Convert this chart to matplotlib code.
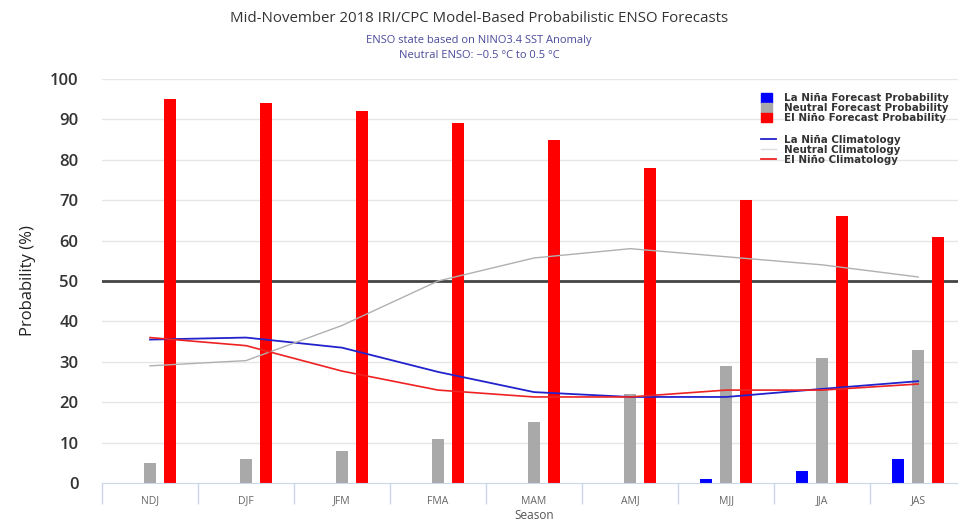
import numpy as np
import matplotlib
matplotlib.use('Agg')
import matplotlib.pyplot as plt
from matplotlib.patches import Patch
from matplotlib.lines import Line2D

plt.rcParams['font.family'] = ['Open Sans', 'DejaVu Sans']

# Datos
seasons = ['NDJ', 'DJF', 'JFM', 'FMA', 'MAM', 'AMJ', 'MJJ', 'JJA', 'JAS']
lanina_prob = [0, 0, 0, 0, 0, 0, 1, 3, 6]
neutral_prob = [5, 6, 8, 11, 15, 22, 29, 31, 33]
elnino_prob = [95, 94, 92, 89, 85, 78, 70, 66, 61]

lanina_clim = [35.5, 36, 33.5, 27.5, 22.5, 21.3, 21.3, 23.3, 25.2]
neutral_clim = [29, 30.3, 39, 50, 55.7, 58, 56, 54, 51]
elnino_clim = [36, 34, 27.7, 23, 21.3, 21.3, 23, 23, 24.5]

x = np.arange(len(seasons))
w = 0.125
off = 0.208

fig = plt.figure(figsize=(9.58, 5.21), dpi=100)
ax = fig.add_axes([0.1065, 0.0729, 0.902, 0.7755])

# Rejilla horizontal
for yv in range(10, 101, 10):
    if yv == 50:
        continue
    ax.axhline(yv, color='#e6e6e6', lw=1, zorder=0)
ax.axhline(50, color='#444444', lw=2, zorder=1)

ax.bar(x - off, lanina_prob, w, color='#0000ff', zorder=2)
ax.bar(x, neutral_prob, w, color='#a9a9a9', zorder=2)
ax.bar(x + off, elnino_prob, w, color='#ff0000', zorder=2)

ax.plot(x, lanina_clim, color='#2222cc', lw=1.3, zorder=3)
ax.plot(x, neutral_clim, color='#b0b0b0', lw=1.0, zorder=3)
ax.plot(x, elnino_clim, color='#ee2222', lw=1.2, zorder=3)

ax.set_xlim(-0.5, len(seasons) - 0.5)
ax.set_ylim(0, 100)

for s in ['top', 'right', 'left']:
    ax.spines[s].set_visible(False)
ax.spines['bottom'].set_color('#ccd6eb')

ax.set_xticks(x)
ax.set_xticklabels(seasons, fontsize=7.5, color='#666666')
ax.tick_params(axis='x', length=0, pad=9)
ax.set_xticks(np.arange(-0.5, len(seasons), 1), minor=True)
ax.tick_params(axis='x', which='minor', length=15, color='#ccd6eb', width=1)
ax.set_xlabel('Season', fontsize=8.5, color='#555555', labelpad=0)

ax.set_yticks(range(0, 101, 10))
ax.set_yticklabels([str(v) for v in range(0, 101, 10)], fontsize=12, color='#333333', fontweight='semibold')
ax.tick_params(axis='y', length=0, pad=17)
ax.set_ylabel('Probability (%)', fontsize=12, color='#222222', labelpad=10)

# Titulos
fig.text(0.5, 1 - 18 / 521, 'Mid-November 2018 IRI/CPC Model-Based Probabilistic ENSO Forecasts',
         ha='center', va='center', fontsize=10.8, color='#333333')
fig.text(0.5, 1 - 40 / 521, 'ENSO state based on NINO3.4 SST Anomaly',
         ha='center', va='center', fontsize=8, color='#4b4b9b')
fig.text(0.5, 1 - 56 / 521, 'Neutral ENSO: \u22120.5 \u00b0C to 0.5 \u00b0C',
         ha='center', va='center', fontsize=8, color='#4b4b9b')

# Leyendas
bar_handles = [Patch(color='#0000ff'), Patch(color='#a9a9a9'), Patch(color='#ff0000')]
bar_labels = ['La Niña Forecast Probability', 'Neutral Forecast Probability', 'El Niño Forecast Probability']
line_handles = [Line2D([], [], color='#2222cc', lw=1.3), Line2D([], [], color='#dddddd', lw=1),
                Line2D([], [], color='#ee2222', lw=1.3)]
line_labels = ['La Niña Climatology', 'Neutral Climatology', 'El Niño Climatology']

kw = dict(frameon=False, loc='upper left', borderpad=0, labelspacing=-0.04,
          handlelength=1.05, handleheight=1.05, handletextpad=1.15,
          prop={'family': 'DejaVu Sans', 'size': 7.4, 'weight': 'bold'}, labelcolor='#333333')
leg1 = fig.legend(bar_handles, bar_labels, bbox_to_anchor=(0.789, 1 - 88 / 521), **kw)
kw2 = dict(kw)
kw2['handlelength'] = 1.5
kw2['handletextpad'] = 0.75
leg2 = fig.legend(line_handles, line_labels, bbox_to_anchor=(0.789, 1 - 130 / 521), **kw2)

fig.savefig('out.png', dpi=100)
